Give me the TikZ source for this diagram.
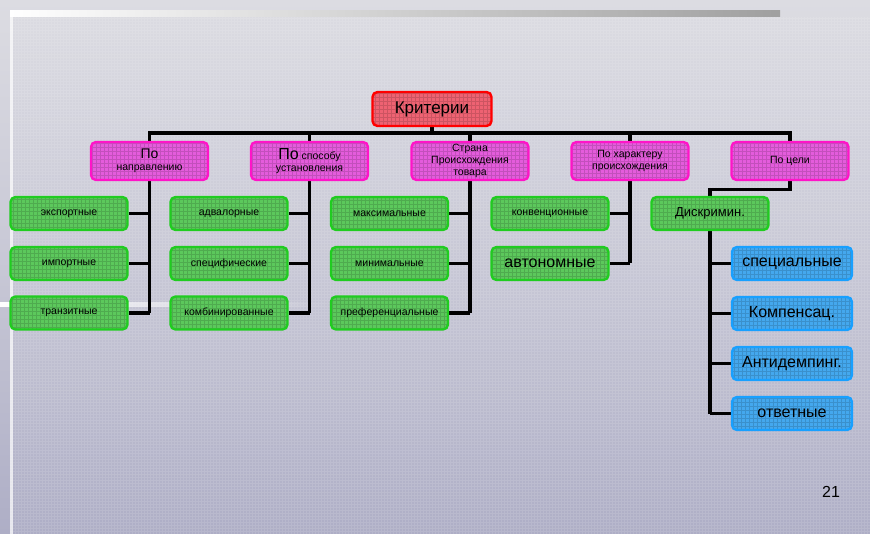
\documentclass[tikz,border=0pt]{standalone}
\usepackage{fontspec}
\setmainfont{Liberation Sans}
\usetikzlibrary{positioning,fadings}
\pgfdeclarelayer{back}
\pgfdeclarelayer{wires}
\pgfsetlayers{back,wires,main}
\definecolor{critfill}{HTML}{EE6272}
\definecolor{critline}{HTML}{FF0000}
\definecolor{topfill}{HTML}{E45CDC}
\definecolor{topline}{HTML}{FF14C8}
\definecolor{grfill}{HTML}{5CC85C}
\definecolor{grline}{HTML}{20CC20}
\definecolor{blfill}{HTML}{44A8EE}
\definecolor{blline}{HTML}{18A0FF}
\definecolor{bgtop}{HTML}{DCDCE2}
\definecolor{bgbot}{HTML}{AEAEC6}
\tikzset{
  gridfill/.style={path picture={\draw[black, opacity=0.14, line width=0.35pt]
      (path picture bounding box.south west) grid[step=4pt]
      (path picture bounding box.north east);}},
  anybox/.style={draw, rounded corners=5pt, line width=2.4pt, align=center,
      inner sep=1pt, gridfill, font=\fontsize{10.5}{12}\selectfont},
  critbox/.style={anybox, fill=critfill, draw=critline, minimum width=119pt,
      minimum height=34pt, font=\fontsize{17}{18}\selectfont},
  topbox/.style={anybox, fill=topfill, draw=topline, minimum width=117pt,
      minimum height=38pt},
  grbox/.style={anybox, fill=grfill, draw=grline, minimum width=117pt,
      minimum height=33pt},
  blbox/.style={anybox, fill=blfill, draw=blline, minimum width=120pt,
      minimum height=33pt, font=\fontsize{16}{18}\selectfont},
  wire/.style={line width=3.2pt, line join=miter, black},
}
\begin{document}
\begin{tikzpicture}[x=1pt,y=-1pt]
  \useasboundingbox (0,0) rectangle (870,534);
  % slide background
  \begin{pgfonlayer}{back}
    \shade[top color=bgtop, bottom color=bgbot, middle color=bgtop!55!bgbot]
      (0,0) rectangle (870,534);
    \draw[white, opacity=0.12, line width=0.3pt] (10,17) grid[step=3pt] (870,534);
    \shade[left color=white, right color=gray!75] (10,11) rectangle (780,17);
    \fill[white, opacity=0.7] (10,11) rectangle (13,534);
    \fill[white, path fading=east] (0,302) rectangle (330,307);
  \end{pgfonlayer}
  % root and criteria
  \node[critbox] (krit) at (432,109) {Критерии};
  \node[topbox] (napr) at (149.5,161)
    {{\fontsize{14}{15}\selectfont По}\\направлению};
  \node[topbox] (sposob) at (309.5,161)
    {{\fontsize{16}{16}\selectfont По} способу\\установления};
  \node[topbox] (strana) at (470,161) {Страна\\Происхождения\\товара};
  \node[topbox] (harakt) at (630,161) {По характеру\\происхождения};
  \node[topbox] (celi) at (790,161) {По цели};
  % leaves
  \node[grbox] (eksp) at (69,213.5) {экспортные};
  \node[grbox] (imp) at (69,263.5) {импортные};
  \node[grbox] (tran) at (69,313) {транзитные};
  \node[grbox] (advl) at (229,213.5) {адвалорные};
  \node[grbox] (spec) at (229,263.5) {специфические};
  \node[grbox] (komb) at (229,313) {комбинированные};
  \node[grbox] (maks) at (389.5,213.5) {максимальные};
  \node[grbox] (mini) at (389.5,263.5) {минимальные};
  \node[grbox] (pref) at (389.5,313) {преференциальные};
  \node[grbox] (konv) at (550,213.5) {конвенционные};
  \node[grbox, font=\fontsize{16}{18}\selectfont] (avto) at (550,263.5) {автономные};
  \node[grbox, font=\fontsize{13}{15}\selectfont] (disk) at (710,213.5) {Дискримин.};
  \node[blbox] (spcl) at (792,263.5) {специальные};
  \node[blbox] (komp) at (792,313.5) {Компенсац.};
  \node[blbox] (anti) at (792,363.5) {Антидемпинг.};
  \node[blbox] (otvt) at (792,413.5) {ответные};
  % connectors
  \begin{pgfonlayer}{wires}
    \coordinate (bus) at (432,133);
    \draw[wire] (krit.south) -- (bus);
    \draw[wire] (napr.center |- tran.east) -- (napr.north |- bus)
      -- (celi.north |- bus) -- (celi.north);
    \draw[wire] (sposob.north |- bus) -- (sposob.center |- komb.east);
    \draw[wire] (strana.north |- bus) -- (strana.center |- pref.east);
    \draw[wire] (harakt.north |- bus) -- (harakt.center |- avto.east);
    \foreach \c in {eksp,imp,tran} \draw[wire] (\c.east) -- (\c.east -| napr.center);
    \foreach \c in {advl,spec,komb} \draw[wire] (\c.east) -- (\c.east -| sposob.center);
    \foreach \c in {maks,mini,pref} \draw[wire] (\c.east) -- (\c.east -| strana.center);
    \foreach \c in {konv,avto} \draw[wire] (\c.east) -- (\c.east -| harakt.center);
    \draw[wire] (celi.south) -- ++(0,8) -| (disk.north);
    \draw[wire] (disk.south) -- (disk.south |- otvt.west);
    \foreach \c in {spcl,komp,anti,otvt} \draw[wire] (\c.west) -- (\c.west -| disk.south);
  \end{pgfonlayer}
  \node[font=\fontsize{16}{18}\selectfont] (page) at (831,491.5) {21};
\end{tikzpicture}
\end{document}
